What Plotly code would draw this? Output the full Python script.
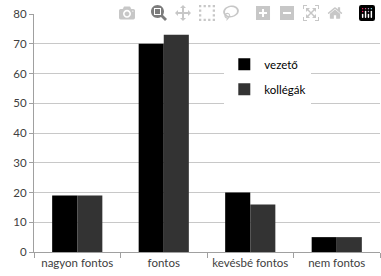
import plotly.graph_objects as go

categories = ["nagyon fontos", "fontos", "kevésbé fontos", "nem fontos"]
vezeto = [19, 70, 20, 5]
kollegak = [19, 73, 16, 5]
y_ticks = [0, 10, 20, 30, 40, 50, 60, 70, 80]

fig = go.Figure()
fig.add_trace(go.Bar(x=categories, y=vezeto, name="vezető", legendgroup="a",
                     marker=dict(color="#000000", line=dict(width=0))))
fig.add_trace(go.Bar(x=categories, y=kollegak, name="kollégák", legendgroup="b",
                     marker=dict(color="#333333", line=dict(width=0))))

fig.update_layout(
    width=381, height=276,
    margin=dict(l=34, r=1, t=14, b=24, autoexpand=False),
    paper_bgcolor="white", plot_bgcolor="white",
    barmode="group", bargap=0.42, bargroupgap=0,
    font=dict(family="Lato, Open Sans, sans-serif", size=11.5, color="#404040"),
    showlegend=True,
    legend=dict(x=0.55, y=0.85, xanchor="left", yanchor="top", bgcolor="white",
                font=dict(size=11.5, color="#000000"), itemwidth=30, tracegroupgap=6,
                traceorder="grouped"),
    xaxis=dict(showline=True, linecolor="#a0a0a0", linewidth=1, ticks="outside",
               tickcolor="#a0a0a0", ticklen=5, tickson="boundaries", showgrid=False,
               automargin=False, tickangle=0),
    yaxis=dict(range=[0, 80], tickvals=y_ticks, showline=True, linecolor="#a0a0a0",
               ticks="outside", tickcolor="#a0a0a0", ticklen=4, gridcolor="#c8c8c8",
               gridwidth=1, zeroline=False, automargin=False),
)

fig.write_html("out.html", post_script="document.body.style.margin='0';")
